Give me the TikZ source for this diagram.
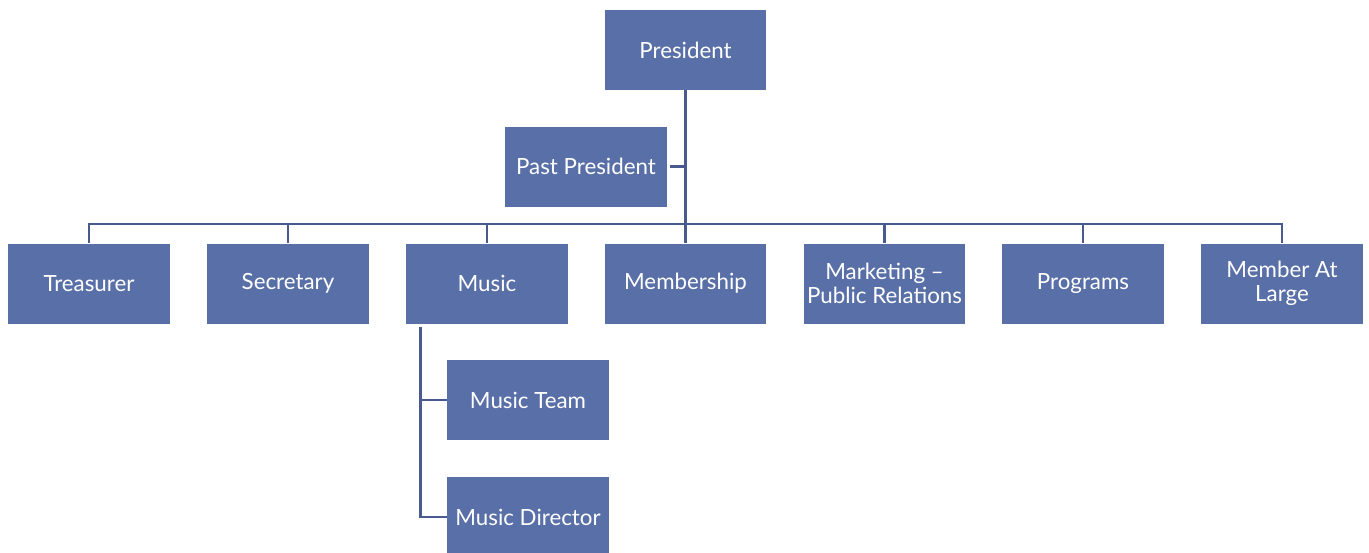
\documentclass[tikz,border=0pt]{standalone}
\usepackage{fontspec}
\setmainfont{Lato}
\definecolor{boxblue}{RGB}{89,111,167}
\definecolor{linkblue}{RGB}{72,90,142}
\tikzset{
  unit/.style={fill=boxblue,text=white,minimum width=3.24cm,minimum height=1.6cm,
    align=center,inner sep=1pt,font=\fontsize{12.7}{13.5}\selectfont},
  link/.style={linkblue,line width=1.4pt}
}

\begin{document}
\begin{tikzpicture}[x=0.02cm,y=-0.02cm]
   \useasboundingbox (0,0) rectangle (1369,552);
   % top
   \node[unit] (pres) at (685.5,50) {President};
   \node[unit] (past) at (586,166.5) {Past President};
   % officers
   \node[unit] (treas) at (89,283.5) {Treasurer};
   \node[unit] (secr) at (288,283.5) {Secretary};
   \node[unit] (music) at (487,283.5) {Music};
   \node[unit] (memb) at (685.5,283.5) {Membership};
   \node[unit] (mktg) at (884.5,283.5) {Marketing --\\Public Relations};
   \node[unit] (prog) at (1083,283.5) {Programs};
   \node[unit] (mal) at (1282,283.5) {Member At\\Large};
   % music
   \node[unit] (mteam) at (528,400) {Music Team};
   \node[unit] (mdir) at (528,517) {Music Director};
   % links
   \draw[link] (pres.south) -- (memb.north);
   \draw[link,shorten <=0.06cm] (past.east) -- (past.east -| pres.south);
   \draw[link] (treas.north) -- ++(0,-19) -| (mal.north);
   \foreach \n in {secr,music,mktg,prog}
     \draw[link] (\n.north) -- ++(0,-19);
   \coordinate (trunk) at ([xshift=0.3cm,yshift=-0.06cm]music.south west);
   \draw[link] (trunk) |- (mteam.west);
   \draw[link] (trunk) |- (mdir.west);
\end{tikzpicture}
\end{document}
